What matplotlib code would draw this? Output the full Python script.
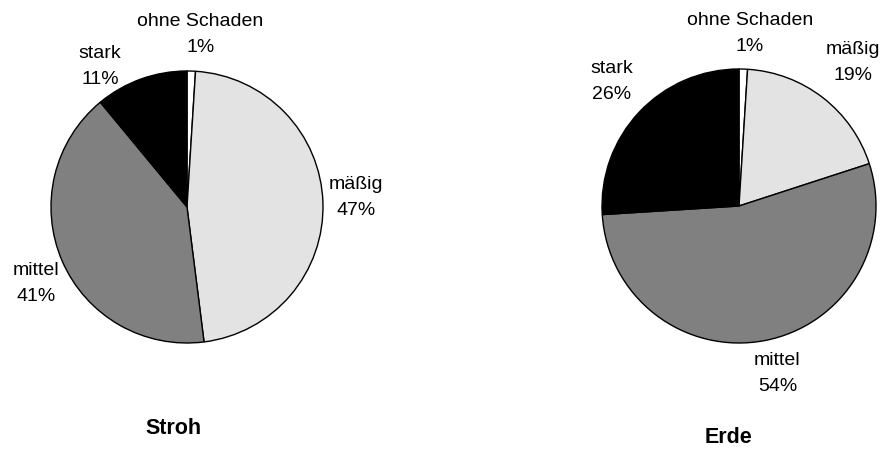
import matplotlib.pyplot as plt

plt.rcParams['font.family'] = ['Liberation Sans', 'DejaVu Sans']

categories = ['ohne Schaden', 'mäßig', 'mittel', 'stark']
stroh_values = [1, 47, 41, 11]
erde_values = [1, 19, 54, 26]
titles = ['Stroh', 'Erde']

colors = ['white', '#e3e3e3', '#808080', 'black']

W, H = 883, 451
fig = plt.figure(figsize=(W / 100, H / 100), dpi=100)

# pie centre (px), radius (px), label offsets in radius units, title offset
setups = [
    dict(cx=187, cy=207, r=136,
         labels=[(0.10, 1.27), (1.24, 0.07), (-1.11, -0.56), (-0.64, 1.03)],
         title=(-0.10, -1.63)),
    dict(cx=739, cy=206, r=137,
         labels=[(0.08, 1.26), (0.83, 1.05), (0.28, -1.22), (-0.93, 0.91)],
         title=(-0.08, -1.69)),
]

L = 1.8
for values, title, s in zip([stroh_values, erde_values], titles, setups):
    size = 2 * L * s['r']
    ax = fig.add_axes([(s['cx'] - L * s['r']) / W,
                       (H - s['cy'] - L * s['r']) / H,
                       size / W, size / H])
    ax.pie(values, colors=colors, startangle=90, counterclock=False,
           radius=1, wedgeprops=dict(edgecolor='black', linewidth=1.0))
    ax.set_xlim(-L, L)
    ax.set_ylim(-L, L)
    ax.axis('off')
    for name, v, (lx, ly) in zip(categories, values, s['labels']):
        ax.text(lx, ly, f'{name}\n{v}%', ha='center', va='center',
                fontsize=14, linespacing=1.7)
    ax.text(s['title'][0], s['title'][1], title, ha='center', va='center',
            fontsize=15.5, fontweight='bold')

fig.savefig('out.png', dpi=100)
